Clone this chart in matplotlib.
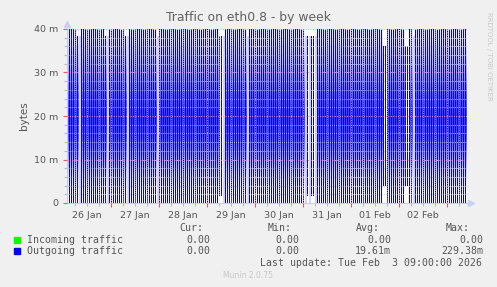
import matplotlib
import numpy as np
import pandas as pd

matplotlib.use('Agg')
from matplotlib import pyplot as plt
import matplotlib.dates as mdates
from matplotlib.path import Path

# one code per hour from 26 Jan 02:00 to 03 Feb 09:00 (a peak sample, then a zero sample)
# H: above 40 m (clipped), s: ~38 m, b: ~38 m on a ~1.7 m base, m: ~36 m on a ~4 m base, x: no data
days = [
    "HHHHHsxHHHHHHHHHHHHsxH",      # 26 Jan (from 02:00)
    "HHHHHHHsxHHHHHHHHHHHHHHx",    # 27 Jan
    "HHHHHHHHHHHHHHHHHHHHHHHH",    # 28 Jan
    "HHHHHHbbxHHHHHHHHHHHxHHH",    # 29 Jan
    "HHHHHHHHHHHHHHHHHHHHHHHH",    # 30 Jan
    "HxbxbbxHHHHHHHHHHHHHHHHH",    # 31 Jan
    "HHHHHHHHHHHHHHHHmmHHHHHH",    # 01 Feb
    "HHHmmHHxHHHHHHHHHHHHHHHH",    # 02 Feb
    "HHHHHHHHHH",                  # 03 Feb (to 09:00)
]
code_top = {"H": 45.0, "s": 38.4, "b": 38.4, "m": 36.0, "x": 38.4}
code_base = {"H": 0.0, "s": 0.0, "b": 1.7, "m": 4.0, "x": 0.0}

names = ["Incoming traffic", "Outgoing traffic"]
cur = ["0.00", "0.00"]
mins = ["0.00", "0.00"]
avgs = ["0.00", "19.61m"]
maxs = ["0.00", "229.38m"]

W, H = 497, 287
fig = plt.figure(figsize=(W / 100, H / 100), dpi=100, facecolor="#f0f0f0")
ax = fig.add_axes([67 / W, (H - 203) / H, 400 / W, 174 / H])
ax.set_facecolor("white")

t0 = pd.Timestamp("2026-01-26 02:00")
codes = "".join(days)
hours = pd.date_range(t0, periods=len(codes), freq="h")
x = mdates.date2num(hours.to_pydatetime())
top = np.array([code_top[c] for c in codes])
base = np.array([code_base[c] for c in codes])
full = np.array([c != "x" for c in codes])
x0 = mdates.date2num(t0.to_pydatetime())
x1 = x0 + len(codes) / 24

# rrdtool's antialiased area leaves a blue haze in the gaps between peaks
haze = np.array([0.0, 0.15, 0.45, 0.75, 0.85, 0.7, 0.45, 0.25, 0.08])
img = np.zeros((len(haze), 1, 4))
img[:, 0, 2] = 1.0
img[:, 0, 0] = 0.1
img[:, 0, 1] = 0.1
img[:, 0, 3] = haze
im = ax.imshow(img, extent=(x0, x1, 0, 40), aspect="auto", origin="lower",
               interpolation="bilinear", zorder=1)
gaps = [Path([(xi + 1 / 48, 0), (xi + 1 / 24, 0), (xi + 1 / 24, 40), (xi + 1 / 48, 40), (xi + 1 / 48, 0)], closed=True)
        for xi, c in zip(x, codes) if c in "Hs"]
im.set_clip_path(Path.make_compound_path(*gaps), ax.transData)

ax.bar(x[full], top[full] - base[full], bottom=base[full], width=1 / 48, align="edge",
       color="#0000ff", edgecolor="none", linewidth=0, zorder=2)
ax.bar(x[~full], top[~full] - base[~full], bottom=base[~full], width=1 / 24, align="edge",
       color="#d4d4f6", edgecolor="none", linewidth=0, zorder=2)

ax.set_xlim(x0, x1)
ax.set_ylim(0, 40)

mid = pd.date_range("2026-01-27", "2026-02-03", freq="D")
ax.set_xticks(mdates.date2num(mid.to_pydatetime()))
ax.set_xticks(mdates.date2num(pd.date_range("2026-01-26 06:00", "2026-02-03 06:00", freq="6h").to_pydatetime()), minor=True)
ax.set_xticklabels([])
ax.set_yticks([0, 10, 20, 30, 40])
ax.set_yticklabels(["0", "10 m", "20 m", "30 m", "40 m"])
ax.set_yticks(np.arange(0, 41, 2), minor=True)

ax.tick_params(which="major", color="#e06060", length=3, width=0.8, labelsize=6.8, labelcolor="#555555", pad=3)
ax.tick_params(which="minor", color="#bbbbbb", length=2, width=0.8)
ax.grid(which="major", color="#e8a0a0", linestyle=(0, (1, 1.5)), linewidth=0.7, zorder=3)
ax.grid(which="minor", color="#cccccc", linestyle=(0, (1, 1.5)), linewidth=0.6, zorder=3)
ax.set_axisbelow(False)

noon = pd.date_range("2026-01-26 12:00", "2026-02-02 12:00", freq="D")
sec = ax.secondary_xaxis("bottom")
sec.set_xticks(mdates.date2num(noon.to_pydatetime()))
sec.set_xticklabels(noon.strftime("%d %b"))
sec.tick_params(length=0, labelsize=6.8, labelcolor="#555555", pad=6)
sec.spines["bottom"].set_visible(False)

for s in ["top", "right"]:
    ax.spines[s].set_visible(False)
for s in ["bottom", "left"]:
    ax.spines[s].set_color("#c8ccf0")
    ax.spines[s].set_linewidth(0.8)
ax.plot([0], [1.03], marker="^", ms=4, color="#c8d0f0", transform=ax.transAxes, clip_on=False)
ax.plot([1.01], [0], marker=">", ms=4, color="#c8d0f0", transform=ax.transAxes, clip_on=False)

ax.set_ylabel("bytes", fontsize=7.5, color="#555555", labelpad=4)
fig.text(248 / W, 1 - 18 / H, "Traffic on eth0.8 - by week", ha="center", va="center",
         fontsize=8.9, color="#606060")
fig.text(489 / W, 1 - 12 / H, "RRDTOOL / TOBI OETIKER", rotation=270, ha="center", va="top",
         fontsize=5, color="#c8c8c8")

mono = dict(family="DejaVu Sans Mono", fontsize=7.1, color="#555555", va="center")
fig.text(203 / W, 1 - 228 / H, "Cur:", ha="right", **mono)
fig.text(292 / W, 1 - 228 / H, "Min:", ha="right", **mono)
fig.text(380 / W, 1 - 228 / H, "Avg:", ha="right", **mono)
fig.text(470 / W, 1 - 228 / H, "Max:", ha="right", **mono)
colors = ["#00ff00", "#0000ff"]
for i, yy in enumerate([240, 251]):
    fig.patches.append(plt.Rectangle((14 / W, 1 - (yy + 3) / H), 6 / W, 6 / H, color=colors[i],
                                     transform=fig.transFigure, figure=fig))
    fig.text(27 / W, 1 - yy / H, names[i], ha="left", **mono)
    fig.text(210 / W, 1 - yy / H, cur[i], ha="right", **mono)
    fig.text(299 / W, 1 - yy / H, mins[i], ha="right", **mono)
    fig.text(391 / W, 1 - yy / H, avgs[i], ha="right", **mono)
    fig.text(483 / W, 1 - yy / H, maxs[i], ha="right", **mono)
fig.text(482 / W, 1 - 263 / H, "Last update: Tue Feb  3 09:00:00 2026", ha="right", **mono)
fig.text(248 / W, 1 - 276 / H, "Munin 2.0.75", ha="center", va="center", fontsize=5.5, color="#c8c8c8")

fig.savefig("out.png", dpi=100, facecolor=fig.get_facecolor())
